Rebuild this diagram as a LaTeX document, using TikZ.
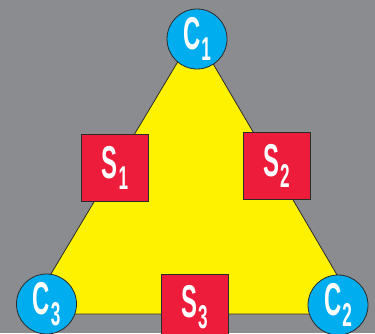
\documentclass[tikz,border=0pt]{standalone}
\usepackage{fontspec}
\newfontfamily\labelfont[FakeStretch=0.52]{Liberation Sans Bold}
\usetikzlibrary{positioning}
\definecolor{Back}{HTML}{8B8C90}
\definecolor{Edge}{HTML}{2B2B2B}
\definecolor{Tri}{HTML}{FFF200}
\definecolor{Cyan}{HTML}{00AEEF}
\definecolor{Red}{HTML}{ED1C3A}
\newcommand{\lbl}[2]{{\labelfont\fontsize{46}{46}\selectfont #1\kern1pt\raisebox{-11pt}{\fontsize{33}{33}\selectfont #2}}}
\tikzset{
    cnode/.style={circle, draw=Edge, line width=0.8pt, fill=Cyan, text=white, minimum size=60pt, inner sep=0pt},
    snode/.style={rectangle, draw=Edge, line width=0.8pt, fill=Red, text=white, minimum size=67pt, inner sep=0pt},
}
\begin{document}
\begin{tikzpicture}[x=1pt, y=1pt]
    \fill[Back] (0,0) rectangle (375,333);
    \useasboundingbox (0,0) rectangle (375,333);
    \clip (0,0) rectangle (375,333);

    % triangle
    \coordinate (top) at (195,300);
    \coordinate (left) at (27,19);
    \coordinate (right) at (360,19);
    \draw[Edge, line width=0.8pt, fill=Tri] (top) -- (right) -- (left) -- cycle;

    % squares
    \node[snode] (s1) at (115,165) {\lbl{S}{1}};
    \node[snode] (s2) at (276.5,167) {\lbl{S}{2}};
    \node[snode] (s3) at (194.5,25.5) {\lbl{S}{3}};

    % circles
    \node[cnode] (c1) at (197,294) {\lbl{C}{1}};
    \node[cnode] (c2) at (338,28) {\lbl{C}{2}};
    \node[cnode] (c3) at (46.5,29) {\lbl{C}{3}};
\end{tikzpicture}
\end{document}
